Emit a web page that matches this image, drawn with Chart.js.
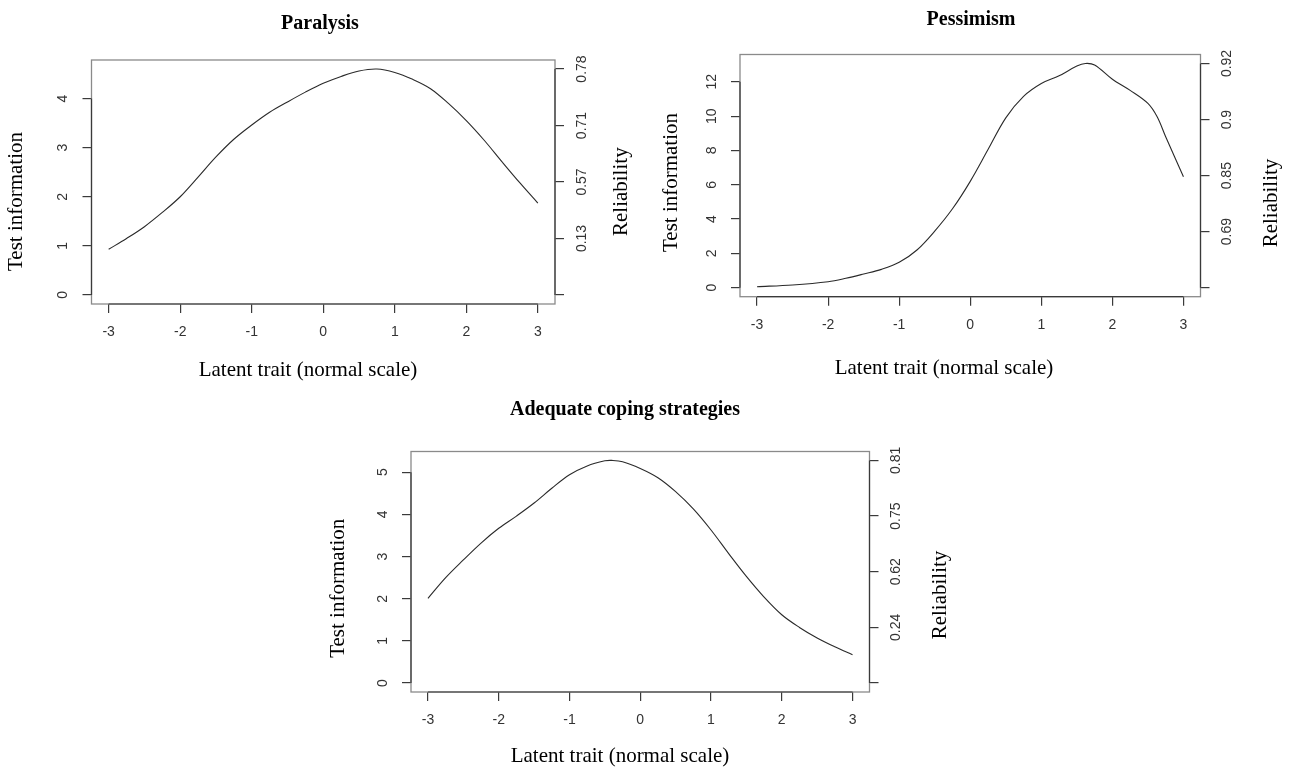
<!DOCTYPE html>
<html>
<head>
<meta charset="utf-8">
<script src="https://cdn.jsdelivr.net/npm/chart.js@4.4.1/dist/chart.umd.min.js"></script>
<style>
html,body{margin:0;padding:0;background:#fff;width:1293px;height:767px;overflow:hidden;}
canvas{position:absolute;left:0;top:0;}
</style>
</head>
<body>
<canvas id="c1" width="1293" height="767"></canvas>
<canvas id="c2" width="1293" height="767"></canvas>
<canvas id="c3" width="1293" height="767"></canvas>
<script>
// ---------- DATA ----------
const xTicks = [-3, -2, -1, 0, 1, 2, 3];
const xTickLabels = ['-3', '-2', '-1', '0', '1', '2', '3'];

const paralysisTheta = [-3, -2.75, -2.5, -2.25, -2, -1.75, -1.5, -1.25, -1, -0.75, -0.5, -0.25, 0, 0.25, 0.5, 0.75, 1, 1.25, 1.5, 1.75, 2, 2.25, 2.5, 2.75, 3];
const paralysisInfo  = [0.93, 1.15, 1.39, 1.68, 2.0, 2.4, 2.81, 3.17, 3.46, 3.72, 3.93, 4.13, 4.31, 4.45, 4.56, 4.6, 4.53, 4.39, 4.2, 3.9, 3.55, 3.15, 2.71, 2.28, 1.87];
const paralysisMax = 4.6;
const paralysisInfoTicks = [0, 1, 2, 3, 4];
const paralysisRelPos = [0, 1.15, 2.3, 3.45, 4.6];
const paralysisRelLabels = ['', '0.13', '0.57', '0.71', '0.78'];

const pessimismTheta = [-3, -2.5, -2, -1.75, -1.5, -1.25, -1, -0.75, -0.5, -0.25, 0, 0.25, 0.5, 0.75, 1, 1.25, 1.5, 1.62, 1.75, 2, 2.25, 2.5, 2.63, 2.75, 3];
const pessimismInfo  = [0.06, 0.16, 0.35, 0.55, 0.8, 1.07, 1.48, 2.2, 3.3, 4.6, 6.2, 8.05, 9.9, 11.15, 11.9, 12.35, 12.92, 13.07, 12.98, 12.15, 11.5, 10.74, 9.96, 8.8, 6.47];
const pessimismMax = 13.07;
const pessimismInfoTicks = [0, 2, 4, 6, 8, 10, 12];
const pessimismRelPos = [0, 3.27, 6.53, 9.8, 13.07];
const pessimismRelLabels = ['', '0.69', '0.85', '0.9', '0.92'];

const copingTheta = [-3, -2.75, -2.5, -2.25, -2, -1.75, -1.5, -1.25, -1, -0.75, -0.5, -0.4, -0.25, 0, 0.25, 0.5, 0.75, 1, 1.25, 1.5, 1.75, 2, 2.25, 2.5, 2.75, 3];
const copingInfo  = [2.01, 2.5, 2.92, 3.32, 3.67, 3.96, 4.27, 4.62, 4.94, 5.15, 5.27, 5.28, 5.25, 5.09, 4.87, 4.54, 4.13, 3.63, 3.07, 2.53, 2.04, 1.62, 1.32, 1.07, 0.86, 0.67];
const copingMax = 5.28;
const copingInfoTicks = [0, 1, 2, 3, 4, 5];
const copingRelPos = [0, 1.32, 2.64, 3.96, 5.28];
const copingRelLabels = ['', '0.24', '0.62', '0.75', '0.81'];

const panelTitles = ['Paralysis', 'Pessimism', 'Adequate coping strategies'];
const xAxisTitle = 'Latent trait (normal scale)';
const yAxisTitle = 'Test information';
const y2AxisTitle = 'Reliability';

// ---------- LAYOUT ----------
const W = 1293, H = 767, AX = 40;
const SERIF = '"Liberation Serif", "Times New Roman", Times, serif';
const SANS = '"Liberation Sans", Arial, Helvetica, sans-serif';

const panels = [
  { id: 'c1', theta: paralysisTheta, info: paralysisInfo, max: paralysisMax, ticks: paralysisInfoTicks,
    relPos: paralysisRelPos, relLabels: paralysisRelLabels, title: panelTitles[0],
    box: { L: 91.5, R: 555, T: 60, B: 304 },
    titlePos: [320, 23.5], xTitlePos: [308, 370], yTitlePos: [16.5, 201.5], y2TitlePos: [621.7, 191.7] },
  { id: 'c2', theta: pessimismTheta, info: pessimismInfo, max: pessimismMax, ticks: pessimismInfoTicks,
    relPos: pessimismRelPos, relLabels: pessimismRelLabels, title: panelTitles[1],
    box: { L: 740, R: 1200.5, T: 54.5, B: 296.7 },
    titlePos: [971, 20], xTitlePos: [944, 368.3], yTitlePos: [671.7, 182.5], y2TitlePos: [1271.7, 203] },
  { id: 'c3', theta: copingTheta, info: copingInfo, max: copingMax, ticks: copingInfoTicks,
    relPos: copingRelPos, relLabels: copingRelLabels, title: panelTitles[2],
    box: { L: 411, R: 869.5, T: 451.5, B: 692 },
    titlePos: [625, 410], xTitlePos: [620, 756.7], yTitlePos: [338.3, 588.3], y2TitlePos: [940, 595] }
];

function rotText(ctx, txt, x, y) {
  ctx.save();
  ctx.translate(x, y);
  ctx.rotate(-Math.PI / 2);
  ctx.fillText(txt, 0, 0);
  ctx.restore();
}

const rPlot = {
  id: 'rPlot',
  afterDraw(chart, args, opts) {
    const p = opts.panel;
    const ctx = chart.ctx;
    const ca = chart.chartArea;
    const sx = chart.scales.x, sy = chart.scales.y, sy2 = chart.scales.y2;
    ctx.save();
    // box
    ctx.strokeStyle = '#8a8a8a';
    ctx.lineWidth = 1.3;
    ctx.strokeRect(ca.left, ca.top, ca.right - ca.left, ca.bottom - ca.top);
    // axis lines between first and last tick
    ctx.strokeStyle = '#3a3a3a';
    ctx.lineWidth = 1.2;
    ctx.beginPath();
    ctx.moveTo(sx.getPixelForValue(xTicks[0]), ca.bottom);
    ctx.lineTo(sx.getPixelForValue(xTicks[xTicks.length - 1]), ca.bottom);
    ctx.moveTo(ca.left, sy.getPixelForValue(p.ticks[0]));
    ctx.lineTo(ca.left, sy.getPixelForValue(p.ticks[p.ticks.length - 1]));
    ctx.moveTo(ca.right, sy2.getPixelForValue(p.relPos[0]));
    ctx.lineTo(ca.right, sy2.getPixelForValue(p.relPos[p.relPos.length - 1]));
    ctx.stroke();
    // tick labels
    ctx.fillStyle = '#333';
    ctx.font = '14px ' + SANS;
    ctx.textAlign = 'center';
    ctx.textBaseline = 'middle';
    xTicks.forEach((v, i) => ctx.fillText(xTickLabels[i], sx.getPixelForValue(v), ca.bottom + 28));
    p.ticks.forEach(v => rotText(ctx, String(v), ca.left - 28, sy.getPixelForValue(v)));
    p.relPos.forEach((v, i) => { if (p.relLabels[i]) rotText(ctx, p.relLabels[i], ca.right + 27, sy2.getPixelForValue(v)); });
    // titles
    ctx.fillStyle = '#000';
    ctx.font = 'bold 20px ' + SERIF;
    ctx.fillText(p.title, p.titlePos[0], p.titlePos[1]);
    ctx.font = '21px ' + SERIF;
    ctx.fillText(xAxisTitle, p.xTitlePos[0], p.xTitlePos[1]);
    rotText(ctx, yAxisTitle, p.yTitlePos[0], p.yTitlePos[1]);
    rotText(ctx, y2AxisTitle, p.y2TitlePos[0], p.y2TitlePos[1]);
    ctx.restore();
  }
};

panels.forEach(p => {
  const lo = -0.04 * p.max, hi = 1.04 * p.max;
  const gridOpt = { drawOnChartArea: false, drawTicks: true, tickLength: 9, color: '#3a3a3a', lineWidth: 1.2 };
  new Chart(document.getElementById(p.id), {
    type: 'line',
    data: {
      datasets: [{
        data: p.theta.map((x, i) => ({ x: x, y: p.info[i] })),
        borderColor: '#2a2a2a',
        borderWidth: 1.1,
        pointRadius: 0,
        fill: false,
        tension: 0.35
      }]
    },
    options: {
      responsive: false,
      animation: false,
      events: [],
      layout: { padding: { left: p.box.L - AX, right: W - p.box.R - AX, top: p.box.T, bottom: H - p.box.B - AX } },
      plugins: { legend: { display: false }, tooltip: { enabled: false }, title: { display: false }, rPlot: { panel: p } },
      scales: {
        x: {
          type: 'linear', position: 'bottom', min: -3.24, max: 3.24,
          afterBuildTicks: s => { s.ticks = xTicks.map(v => ({ value: v })); },
          afterFit: s => { s.height = AX; },
          grid: gridOpt, border: { display: false }, ticks: { display: false }
        },
        y: {
          type: 'linear', position: 'left', min: lo, max: hi,
          afterBuildTicks: s => { s.ticks = p.ticks.map(v => ({ value: v })); },
          afterFit: s => { s.width = AX; },
          grid: gridOpt, border: { display: false }, ticks: { display: false }
        },
        y2: {
          type: 'linear', position: 'right', min: lo, max: hi,
          afterBuildTicks: s => { s.ticks = p.relPos.map(v => ({ value: v })); },
          afterFit: s => { s.width = AX; },
          grid: gridOpt, border: { display: false }, ticks: { display: false }
        }
      }
    },
    plugins: [rPlot]
  });
});
</script>
</body>
</html>
